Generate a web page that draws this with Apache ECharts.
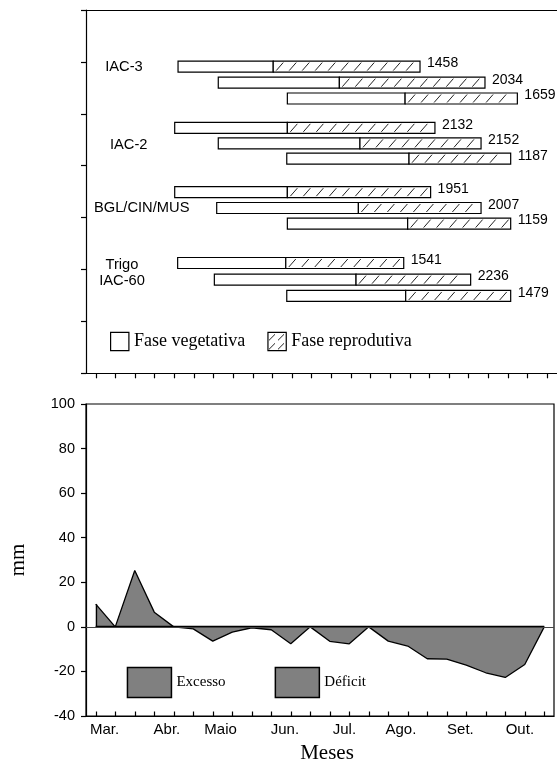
<!DOCTYPE html>
<html><head><meta charset="utf-8">
<script src="https://cdn.jsdelivr.net/npm/echarts@6/dist/echarts.min.js"></script>
<style>html,body{margin:0;padding:0;background:#fff}#c{width:557px;height:765px}</style>
</head><body><div id="c"></div>
<script>
// ---- bottom panel (decendial water balance, mm) ----
const decades = ['Mar.1','Mar.2','Mar.3','Abr.1','Abr.2','Abr.3','Mai.1','Mai.2','Mai.3','Jun.1','Jun.2','Jun.3',
                 'Jul.1','Jul.2','Jul.3','Ago.1','Ago.2','Ago.3','Set.1','Set.2','Set.3','Out.1','Out.2','Out.3'];
const excesso = [10.2, 0, 25.3, 6.6, 0, 0, 0, 0, 0, 0, 0, 0, 0, 0, 0, 0, 0, 0, 0, 0, 0, 0, 0, 0];
const deficit = [0, 0, 0, 0, 0, -0.9, -6.4, -2.4, -0.4, -1.3, -7.6, 0, -6.5, -7.6, 0, -6.4, -8.6, -14.3, -14.5, -17.2, -20.6, -22.7, -16.9, 0];
const monthLabels = ['Mar.', 'Abr.', 'Maio', 'Jun.', 'Jul.', 'Ago.', 'Set.', 'Out.'];
const monthPos = [0.45, 3.65, 6.4, 9.7, 12.75, 15.65, 18.7, 21.75];

// ---- top panel (phenological phases, in decendial units) ----
const genotypes = ['IAC-3', 'IAC-2', 'BGL/CIN/MUS', 'Trigo\nIAC-60'];
const rowY = [1.09, 1.40, 1.705, 2.27, 2.57, 2.865, 3.51, 3.815, 4.115, 4.875, 5.195, 5.51];
const vegStart = [4.19, 6.24, 9.76, 4.02, 6.24, 9.73, 4.02, 6.16, 9.76, 4.17, 6.04, 9.73];
const reproStart = [9.04, 12.41, 15.76, 9.76, 13.46, 15.96, 9.76, 13.38, 15.89, 9.68, 13.26, 15.79];
const cycleEnd = [16.52, 19.83, 21.48, 17.28, 19.63, 21.14, 17.06, 19.63, 21.14, 15.69, 19.10, 21.14];
const sums = ['1458', '2034', '1659', '2132', '2152', '1187', '1951', '2007', '1159', '1541', '2236', '1479'];

const SANS = 'Liberation Sans, Arial, sans-serif';
const SERIF = 'Liberation Serif, Times New Roman, serif';

// hatch pattern for legend icon
const pc = document.createElement('canvas');
pc.width = 9; pc.height = 9;
const g = pc.getContext('2d');
g.fillStyle = '#fff'; g.fillRect(0, 0, 9, 9);
g.strokeStyle = '#222'; g.lineWidth = 1;
g.beginPath(); g.moveTo(1, 8); g.lineTo(7, 2); g.stroke();
const hatch = { image: pc, repeat: 'repeat' };

const BAR_H = 11;
function vegItem(params, api) {
  const a = api.coord([api.value(0), api.value(2)]);
  const b = api.coord([api.value(1), api.value(2)]);
  return { type: 'rect', shape: { x: a[0], y: a[1] - BAR_H / 2, width: b[0] - a[0], height: BAR_H },
           style: { fill: '#fff', stroke: '#000', lineWidth: 1.2 } };
}
function reproItem(params, api) {
  const a = api.coord([api.value(0), api.value(2)]);
  const b = api.coord([api.value(1), api.value(2)]);
  const top = a[1] - BAR_H / 2, bot = a[1] + BAR_H / 2;
  const children = [{ type: 'rect', shape: { x: a[0], y: top, width: b[0] - a[0], height: BAR_H },
                      style: { fill: '#fff', stroke: '#000', lineWidth: 1.2 } }];
  for (let x = a[0] + 3; x + 7 <= b[0] - 1; x += 13) {
    children.push({ type: 'line', shape: { x1: x, y1: bot - 1.5, x2: x + 7, y2: top + 1.5 },
                    style: { stroke: '#222', lineWidth: 1 } });
  }
  children.push({ type: 'text', x: b[0] + 7, y: a[1] - 3,
                  style: { text: sums[params.dataIndex], fontSize: 14, fontFamily: SANS, fill: '#000',
                           align: 'left', verticalAlign: 'middle' } });
  return { type: 'group', children };
}

const axisLine = { show: true, onZero: false, lineStyle: { color: '#000', width: 1.2 } };

const chart = echarts.init(document.getElementById('c'), null, { renderer: 'canvas' });
chart.setOption({
  animation: false,
  backgroundColor: '#fff',
  textStyle: { fontFamily: SANS, color: '#000' },
  grid: [
    { left: 86, right: 0, top: 10, height: 363.3 },
    { left: 86, right: 1, top: 404, height: 313.7, show: true, borderColor: '#000', borderWidth: 1.2 }
  ],
  xAxis: [
    { gridIndex: 0, type: 'category', data: decades, position: 'bottom', boundaryGap: true,
      axisLine, axisTick: { show: true, alignWithLabel: true, interval: 0, length: 5, lineStyle: { color: '#000', width: 1.2 } },
      axisLabel: { show: false, interval: 0 }, splitLine: { show: false } },
    { gridIndex: 0, type: 'value', min: -0.5, max: 23.5, show: false, position: 'bottom' },
    { gridIndex: 0, type: 'value', min: 0, max: 1, position: 'top', axisLine,
      axisTick: { show: false }, axisLabel: { show: false }, splitLine: { show: false } },
    { gridIndex: 1, type: 'category', data: decades, position: 'bottom', boundaryGap: true,
      name: 'Meses', nameLocation: 'middle', nameGap: 27,
      nameTextStyle: { fontFamily: SERIF, fontSize: 21, color: '#000', padding: [0, 0, 0, 14] },
      axisLine, axisTick: { show: true, inside: true, alignWithLabel: true, interval: 0, length: 4.5, lineStyle: { color: '#000', width: 1.2 } },
      axisLabel: { show: false, interval: 0 }, splitLine: { show: false } },
    { gridIndex: 1, type: 'value', min: -0.5, max: 23.5, interval: 0.05, position: 'bottom',
      axisLine: { show: false, onZero: false }, axisTick: { show: false }, splitLine: { show: false },
      axisLabel: { show: true, margin: 6, fontSize: 15, fontFamily: SANS, color: '#000',
        showMinLabel: true, showMaxLabel: true,
        formatter: function (v) {
          const r = Math.round(v * 100) / 100;
          for (let i = 0; i < monthPos.length; i++) if (Math.abs(monthPos[i] - r) < 0.001) return monthLabels[i];
          return '';
        } } }
  ],
  yAxis: [
    { gridIndex: 0, type: 'value', min: 0, max: 7, interval: 1, inverse: true,
      axisLine, axisTick: { show: true, length: 5, lineStyle: { color: '#000', width: 1.2 } },
      axisLabel: { show: false }, splitLine: { show: false } },
    { gridIndex: 1, type: 'value', min: -40, max: 100, interval: 20,
      name: 'mm', nameLocation: 'middle', nameGap: 57,
      nameTextStyle: { fontFamily: SERIF, fontSize: 21, color: '#000' },
      axisLine, axisTick: { show: true, length: 5, lineStyle: { color: '#000', width: 1.2 } },
      axisLabel: { color: '#000', fontSize: 14.5, fontFamily: SANS, margin: 11 }, splitLine: { show: false } }
  ],
  legend: [
    { left: 110, top: 331.7, padding: 0, orient: 'horizontal', selectedMode: false,
      itemWidth: 18.3, itemHeight: 18.3, itemGap: 22, icon: 'rect',
      textStyle: { fontFamily: SERIF, fontSize: 18, color: '#000' },
      itemStyle: { borderColor: '#000', borderWidth: 1.2 },
      data: [{ name: 'Fase vegetativa', itemStyle: { color: '#fff' } },
             { name: 'Fase reprodutiva', itemStyle: { color: hatch } }] },
    { left: 126.7, top: 666.7, padding: 0, orient: 'horizontal', selectedMode: false,
      itemWidth: 44, itemHeight: 30, itemGap: 49, icon: 'rect',
      textStyle: { fontFamily: SERIF, fontSize: 15, color: '#000' },
      itemStyle: { color: '#808080', borderColor: '#000', borderWidth: 1.5 },
      data: ['Excesso', 'Déficit'] }
  ],
  graphic: [
    { type: 'text', x: 124, y: 66.5, style: { text: genotypes[0], align: 'center', verticalAlign: 'middle', fontSize: 14.7, fontFamily: SANS, fill: '#000' } },
    { type: 'text', x: 128.7, y: 144.5, style: { text: genotypes[1], align: 'center', verticalAlign: 'middle', fontSize: 14.7, fontFamily: SANS, fill: '#000' } },
    { type: 'text', x: 141.7, y: 208, style: { text: genotypes[2], align: 'center', verticalAlign: 'middle', fontSize: 14.7, fontFamily: SANS, fill: '#000' } },
    { type: 'text', x: 122, y: 272.6, style: { text: genotypes[3], align: 'center', verticalAlign: 'middle', lineHeight: 16, fontSize: 14.7, fontFamily: SANS, fill: '#000' } }
  ],
  series: [
    { type: 'custom', name: 'Fase vegetativa', xAxisIndex: 1, yAxisIndex: 0, silent: true,
      itemStyle: { color: '#fff' }, encode: { x: [0, 1], y: 2 },
      renderItem: vegItem, data: rowY.map((y, i) => [vegStart[i], reproStart[i], y]) },
    { type: 'custom', name: 'Fase reprodutiva', xAxisIndex: 1, yAxisIndex: 0, silent: true,
      itemStyle: { color: '#fff' }, encode: { x: [0, 1], y: 2 },
      renderItem: reproItem, data: rowY.map((y, i) => [reproStart[i], cycleEnd[i], y]) },
    { type: 'line', name: 'Excesso', xAxisIndex: 3, yAxisIndex: 1, data: excesso, symbol: 'none', silent: true,
      lineStyle: { color: '#000', width: 1.3 }, itemStyle: { color: '#808080' },
      areaStyle: { color: '#808080', opacity: 1 },
      markLine: { silent: true, symbol: 'none', label: { show: false },
        lineStyle: { color: '#000', width: 1.3, type: 'solid' },
        data: [[{ coord: [decades[0], 0] }, { coord: [decades[0], excesso[0]] }]] } },
    { type: 'line', name: 'Déficit', xAxisIndex: 3, yAxisIndex: 1, data: deficit, symbol: 'none', silent: true,
      lineStyle: { color: '#000', width: 1.3 }, itemStyle: { color: '#808080' },
      areaStyle: { color: '#808080', opacity: 1 },
      markLine: { silent: true, symbol: 'none', label: { show: false },
        lineStyle: { color: '#444', width: 1, type: 'solid' }, data: [{ yAxis: 0 }] } },
    { type: 'line', name: 'zero', xAxisIndex: 3, yAxisIndex: 1, data: excesso.map(() => 0), symbol: 'none', silent: true,
      lineStyle: { color: '#000', width: 2 }, z: 3 }
  ]
});
</script></body></html>
